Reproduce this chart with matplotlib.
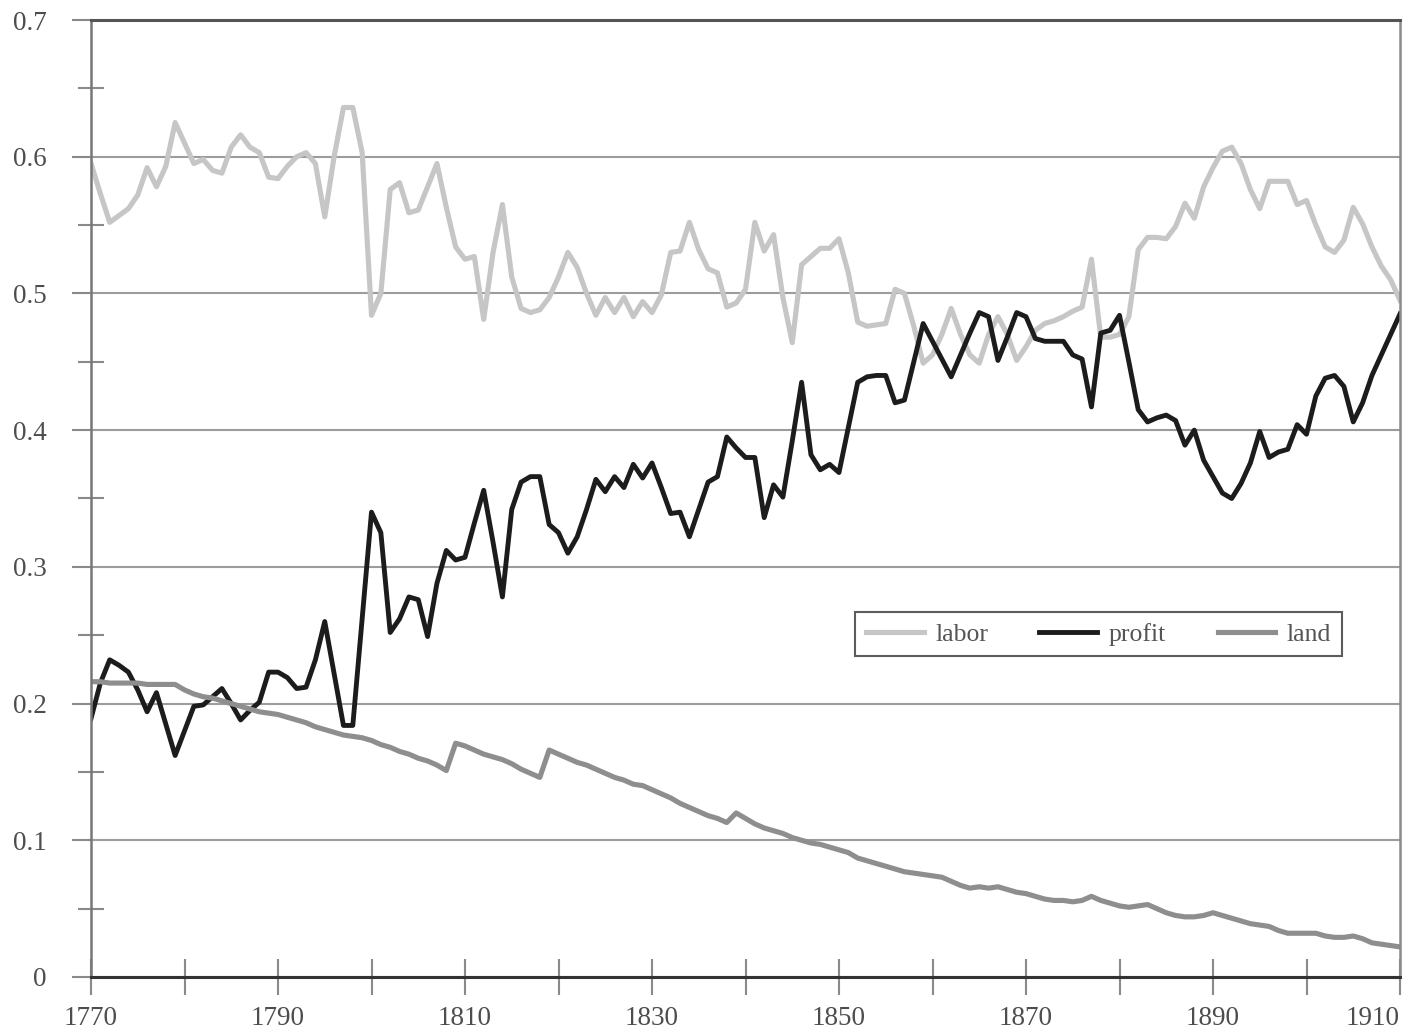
import numpy as np
import matplotlib
matplotlib.use('Agg')
import matplotlib.pyplot as plt
from matplotlib.ticker import MultipleLocator

# annual factor shares, 1770-1910
years = np.arange(1770, 1911)

labor = [
    0.595, 0.573, 0.552, 0.557, 0.562, 0.572, 0.592, 0.578, 0.593, 0.625,  # 1770s
    0.610, 0.595, 0.598, 0.590, 0.588, 0.607, 0.616, 0.607, 0.603, 0.585,  # 1780s
    0.584, 0.593, 0.600, 0.603, 0.595, 0.556, 0.600, 0.636, 0.636, 0.603,  # 1790s
    0.484, 0.500, 0.576, 0.581, 0.559, 0.561, 0.578, 0.595, 0.563, 0.534,  # 1800s
    0.525, 0.527, 0.481, 0.530, 0.565, 0.512, 0.489, 0.486, 0.488, 0.497,  # 1810s
    0.512, 0.530, 0.519, 0.500, 0.484, 0.497, 0.486, 0.497, 0.483, 0.494,  # 1820s
    0.486, 0.499, 0.530, 0.531, 0.552, 0.532, 0.518, 0.515, 0.490, 0.493,  # 1830s
    0.503, 0.552, 0.531, 0.543, 0.497, 0.464, 0.521, 0.527, 0.533, 0.533,  # 1840s
    0.540, 0.515, 0.479, 0.476, 0.477, 0.478, 0.503, 0.500, 0.476, 0.449,  # 1850s
    0.455, 0.470, 0.489, 0.470, 0.455, 0.449, 0.470, 0.483, 0.470, 0.451,  # 1860s
    0.461, 0.473, 0.478, 0.480, 0.483, 0.487, 0.490, 0.525, 0.468, 0.468,  # 1870s
    0.470, 0.483, 0.532, 0.541, 0.541, 0.540, 0.549, 0.566, 0.555, 0.578,  # 1880s
    0.592, 0.604, 0.607, 0.595, 0.576, 0.562, 0.582, 0.582, 0.582, 0.565,  # 1890s
    0.568, 0.550, 0.534, 0.530, 0.539, 0.563, 0.551, 0.534, 0.520, 0.510,  # 1900s
    0.495,
]

profit = [
    0.189, 0.215, 0.232, 0.228, 0.223, 0.210, 0.194, 0.208, 0.185, 0.162,
    0.180, 0.198, 0.199, 0.205, 0.211, 0.200, 0.188, 0.195, 0.201, 0.223,
    0.223, 0.219, 0.211, 0.212, 0.232, 0.260, 0.222, 0.184, 0.184, 0.262,
    0.340, 0.325, 0.252, 0.262, 0.278, 0.276, 0.249, 0.288, 0.312, 0.305,
    0.307, 0.332, 0.356, 0.318, 0.278, 0.342, 0.362, 0.366, 0.366, 0.331,
    0.325, 0.310, 0.322, 0.342, 0.364, 0.355, 0.366, 0.358, 0.375, 0.365,
    0.376, 0.358, 0.339, 0.340, 0.322, 0.342, 0.362, 0.366, 0.395, 0.387,
    0.380, 0.380, 0.336, 0.360, 0.351, 0.392, 0.435, 0.382, 0.371, 0.375,
    0.369, 0.402, 0.435, 0.439, 0.440, 0.440, 0.420, 0.422, 0.450, 0.478,
    0.465, 0.452, 0.439, 0.455, 0.471, 0.486, 0.483, 0.451, 0.468, 0.486,
    0.483, 0.467, 0.465, 0.465, 0.465, 0.455, 0.452, 0.417, 0.471, 0.473,
    0.484, 0.450, 0.415, 0.406, 0.409, 0.411, 0.407, 0.389, 0.400, 0.378,
    0.366, 0.354, 0.350, 0.361, 0.376, 0.399, 0.380, 0.384, 0.386, 0.404,
    0.397, 0.425, 0.438, 0.440, 0.432, 0.406, 0.420, 0.440, 0.455, 0.470,
    0.485,
]

land = [
    0.216, 0.216, 0.215, 0.215, 0.215, 0.215, 0.214, 0.214, 0.214, 0.214,
    0.210, 0.207, 0.205, 0.204, 0.202, 0.200, 0.198, 0.196, 0.194, 0.193,
    0.192, 0.190, 0.188, 0.186, 0.183, 0.181, 0.179, 0.177, 0.176, 0.175,
    0.173, 0.170, 0.168, 0.165, 0.163, 0.160, 0.158, 0.155, 0.151, 0.171,
    0.169, 0.166, 0.163, 0.161, 0.159, 0.156, 0.152, 0.149, 0.146, 0.166,
    0.163, 0.160, 0.157, 0.155, 0.152, 0.149, 0.146, 0.144, 0.141, 0.140,
    0.137, 0.134, 0.131, 0.127, 0.124, 0.121, 0.118, 0.116, 0.113, 0.120,
    0.116, 0.112, 0.109, 0.107, 0.105, 0.102, 0.100, 0.098, 0.097, 0.095,
    0.093, 0.091, 0.087, 0.085, 0.083, 0.081, 0.079, 0.077, 0.076, 0.075,
    0.074, 0.073, 0.070, 0.067, 0.065, 0.066, 0.065, 0.066, 0.064, 0.062,
    0.061, 0.059, 0.057, 0.056, 0.056, 0.055, 0.056, 0.059, 0.056, 0.054,
    0.052, 0.051, 0.052, 0.053, 0.050, 0.047, 0.045, 0.044, 0.044, 0.045,
    0.047, 0.045, 0.043, 0.041, 0.039, 0.038, 0.037, 0.034, 0.032, 0.032,
    0.032, 0.032, 0.030, 0.029, 0.029, 0.030, 0.028, 0.025, 0.024, 0.023,
    0.022,
]

series_names = ['labor', 'profit', 'land']
y_ticks = [0, 0.1, 0.2, 0.3, 0.4, 0.5, 0.6, 0.7]
y_tick_labels = ['0', '0.1', '0.2', '0.3', '0.4', '0.5', '0.6', '0.7']
x_ticks = [1770, 1790, 1810, 1830, 1850, 1870, 1890, 1910]
x_tick_labels = ['1770', '1790', '1810', '1830', '1850', '1870', '1890', '1910']

plt.rcParams['font.family'] = ['Liberation Serif', 'DejaVu Serif']

fig = plt.figure(figsize=(14.24, 10.35), dpi=100)
ax = fig.add_axes([91 / 1424, 58 / 1035, 1309 / 1424, 957 / 1035])

# lines (Excel order: labor, profit, land)
ax.plot(years, labor, color='#c6c6c6', lw=3.7, label=series_names[0], solid_joinstyle='round')
ax.plot(years, profit, color='#1c1c1c', lw=3.5, label=series_names[1], solid_joinstyle='round')
ax.plot(years, land, color='#8e8e8e', lw=3.7, label=series_names[2], solid_joinstyle='round')

ax.set_xlim(1770, 1910)
ax.set_ylim(0, 0.7)

# grid + ticks
ax.set_axisbelow(True)
ax.yaxis.grid(True, color='#9c9c9c', lw=1.5)
ax.set_yticks(y_ticks)
ax.set_yticklabels(y_tick_labels)
ax.yaxis.set_minor_locator(MultipleLocator(0.05))
ax.set_xticks(x_ticks)
ax.set_xticklabels(x_tick_labels)
ax.xaxis.set_minor_locator(MultipleLocator(10))

ax.tick_params(axis='y', which='major', direction='out', length=14, width=1.5,
               color='#8a8a8a', labelsize=19.5, labelcolor='#4d4d4d', pad=18)
ax.tick_params(axis='y', which='minor', direction='inout', length=19, width=1.5, color='#8a8a8a')
ax.tick_params(axis='x', which='both', direction='inout', length=26, width=1.5,
               color='#8a8a8a', labelsize=19.5, labelcolor='#4d4d4d', pad=8)

# last year label sits inside the figure edge
ax.xaxis.get_major_ticks()[-1].label1.set_horizontalalignment('right')

ax.spines['top'].set_color('#555555')
ax.spines['top'].set_linewidth(2.2)
ax.spines['bottom'].set_color('#333333')
ax.spines['bottom'].set_linewidth(2.2)
ax.spines['left'].set_color('#777777')
ax.spines['left'].set_linewidth(1.8)
ax.spines['right'].set_color('#8a8a8a')
ax.spines['right'].set_linewidth(1.8)

leg = ax.legend(loc='upper left', bbox_to_anchor=(0.584, 0.381), ncol=3, frameon=True,
                fancybox=False, edgecolor='#333333', fontsize=18.5, handlelength=2.25,
                handletextpad=0.45, columnspacing=2.0, borderpad=0.4, borderaxespad=0)
leg.get_frame().set_linewidth(1.5)
for t in leg.get_texts():
    t.set_color('#555555')

fig.savefig('out.png', dpi=100)
